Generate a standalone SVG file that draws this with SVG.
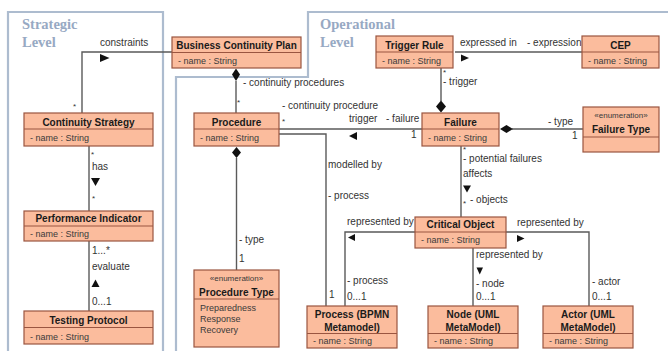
<svg xmlns="http://www.w3.org/2000/svg" width="668" height="351" viewBox="0 0 668 351">
<style>
.frame{fill:none;stroke:#adbccf;stroke-width:2.2}
.ttl{font-family:"Liberation Serif",serif;font-weight:bold;font-size:14.5px;fill:#97a9c3}
.box{fill:#fbbc9d;stroke:#9a5540;stroke-width:1.2}
.dv{stroke:#9a5540;stroke-width:1.2}
.hd{font-family:"Liberation Sans",Arial,sans-serif;font-weight:bold;font-size:10px;fill:#1a1a1a;text-anchor:middle}
.at{font-family:"Liberation Sans",Arial,sans-serif;font-size:9px;fill:#3a3a3a}
.st{font-family:"Liberation Sans",Arial,sans-serif;font-size:8px;fill:#3a3a3a;text-anchor:middle}
.lbl{font-family:"Liberation Sans",Arial,sans-serif;font-size:10px;fill:#333}
.ast{font-family:"Liberation Sans",Arial,sans-serif;font-size:8px;fill:#333}
.ln{fill:none;stroke:#5a5a5a;stroke-width:1.4}
.hd2{fill:#111;stroke:none}
</style>
<rect width="668" height="351" fill="#ffffff"/>
<g id="frames">
<path class="frame" d="M8,365 L8,12 L163,12 L163,365"/>
<path class="frame" d="M176,365 L176,77 L308,77 L308,12 L672,12"/>
<text class="ttl" x="22" y="29">Strategic</text>
<text class="ttl" x="22" y="47">Level</text>
<text class="ttl" x="320" y="29">Operational</text>
<text class="ttl" x="320" y="47">Level</text>
</g>
<g id="connectors">
<!-- constraints -->
<path class="ln" d="M172,52 L82,52 L82,113"/>
<text class="lbl" x="100" y="46">constraints</text>
<polygon class="hd2" points="100,54 109.5,58 100,62"/>
<text class="ast" x="73" y="109">*</text>
<!-- BCP - Procedure -->
<path class="ln" d="M236,81 L236,113"/>
<polygon class="hd2" points="236,68.5 240,74.5 236,81 232,74.5"/>
<text class="lbl" x="243" y="86">- continuity procedures</text>
<text class="ast" x="237" y="105">*</text>
<!-- Procedure - Failure -->
<path class="ln" d="M279,129 L422,129"/>
<text class="lbl" x="282" y="109">- continuity procedure</text>
<text class="ast" x="282" y="124">*</text>
<text class="lbl" x="349" y="122">trigger</text>
<text class="lbl" x="386" y="122">- failure</text>
<text class="lbl" x="411" y="138">1</text>
<polygon class="hd2" points="349,136 357,132 357,140"/>
<!-- Procedure - Process -->
<path class="ln" d="M279,134 L326,134 L326,306"/>
<text class="lbl" x="328" y="168">modelled by</text>
<text class="lbl" x="328" y="199">- process</text>
<text class="lbl" x="329" y="297.5">1</text>
<!-- Procedure - Procedure Type -->
<path class="ln" d="M236.5,158 L236.5,270"/>
<polygon class="hd2" points="236.5,147 241,152.5 236.5,158 232,152.5"/>
<text class="lbl" x="239" y="243">- type</text>
<text class="lbl" x="239" y="262">1</text>
<!-- CS - PI -->
<path class="ln" d="M89,146 L89,211"/>
<text class="ast" x="91" y="157">*</text>
<text class="lbl" x="92" y="170">has</text>
<polygon class="hd2" points="91,178 100,178 95.5,186"/>
<text class="ast" x="92" y="201">*</text>
<!-- PI - TP -->
<path class="ln" d="M89,241 L89,311"/>
<text class="lbl" x="92" y="254">1...*</text>
<text class="lbl" x="92" y="269.5">evaluate</text>
<polygon class="hd2" points="91.5,287 99.5,287 95.5,279.5"/>
<text class="lbl" x="92" y="305">0...1</text>
<!-- Trigger Rule - CEP -->
<path class="ln" d="M455,52 L582,52"/>
<text class="lbl" x="460" y="46">expressed in</text>
<text class="lbl" x="527" y="46">- expression</text>
<polygon class="hd2" points="461,54.5 469,58 461,61.5"/>
<!-- Trigger Rule - Failure -->
<path class="ln" d="M441,68 L441,101"/>
<polygon class="hd2" points="441,100.5 446,106.5 441,112.5 436,106.5"/>
<text class="ast" x="443" y="75">*</text>
<text class="lbl" x="443" y="85">- trigger</text>
<!-- Failure - Failure Type -->
<path class="ln" d="M512,129 L583,129"/>
<polygon class="hd2" points="500,129 506.5,125 513,129 506.5,133"/>
<text class="lbl" x="548" y="125">- type</text>
<text class="lbl" x="572" y="139">1</text>
<!-- Failure - Critical Object -->
<path class="ln" d="M461,146 L461,217"/>
<text class="ast" x="463" y="152">*</text>
<text class="lbl" x="463" y="162">- potential failures</text>
<text class="lbl" x="463" y="177">affects</text>
<polygon class="hd2" points="463,185.5 471,185.5 467,192.5"/>
<text class="ast" x="463" y="206">*</text>
<text class="lbl" x="470" y="202.5">- objects</text>
<!-- Critical Object - Process -->
<path class="ln" d="M415,232 L345,232 L345,306"/>
<text class="lbl" x="347" y="225">represented by</text>
<polygon class="hd2" points="348,237.5 355,234 355,241"/>
<text class="lbl" x="347" y="284">- process</text>
<text class="lbl" x="347" y="299.5">0...1</text>
<!-- Critical Object - Node -->
<path class="ln" d="M473,248 L473,306"/>
<text class="lbl" x="476" y="258">represented by</text>
<polygon class="hd2" points="476.5,267.5 483,267.5 479.75,274.5"/>
<text class="lbl" x="476" y="287">- node</text>
<text class="lbl" x="476" y="299.5">0...1</text>
<!-- Critical Object - Actor -->
<path class="ln" d="M506,232 L589,232 L589,306"/>
<text class="lbl" x="517" y="226">represented by</text>
<polygon class="hd2" points="517,235 524.5,238.5 517,242"/>
<text class="lbl" x="592" y="285">- actor</text>
<text class="lbl" x="592" y="299.5">0...1</text>
</g>
<g id="bcp">
<rect class="box" x="172" y="37" width="129" height="31"/>
<line class="dv" x1="172" y1="52.5" x2="301" y2="52.5"/>
<text class="hd" x="236.5" y="48.5">Business Continuity Plan</text>
<text class="at" x="178" y="64">- name : String</text>
</g>
<g id="continuity-strategy">
<rect class="box" x="24" y="113" width="129" height="33"/>
<line class="dv" x1="24" y1="129" x2="153" y2="129"/>
<text class="hd" x="88.5" y="125.5">Continuity Strategy</text>
<text class="at" x="30" y="140.5">- name : String</text>
</g>
<g id="performance-indicator">
<rect class="box" x="24" y="211" width="129" height="30"/>
<line class="dv" x1="24" y1="226" x2="153" y2="226"/>
<text class="hd" x="88.5" y="221.5">Performance Indicator</text>
<text class="at" x="30" y="237">- name : String</text>
</g>
<g id="testing-protocol">
<rect class="box" x="24" y="311" width="129" height="33"/>
<line class="dv" x1="24" y1="327.5" x2="153" y2="327.5"/>
<text class="hd" x="88.5" y="323.5">Testing Protocol</text>
<text class="at" x="30" y="339.5">- name : String</text>
</g>
<g id="procedure">
<rect class="box" x="194" y="113" width="85" height="33"/>
<line class="dv" x1="194" y1="129" x2="279" y2="129"/>
<text class="hd" x="236.5" y="125.5">Procedure</text>
<text class="at" x="200" y="140.5">- name : String</text>
</g>
<g id="procedure-type">
<rect class="box" x="194" y="270" width="85" height="77"/>
<line class="dv" x1="194" y1="299" x2="279" y2="299"/>
<text class="st" x="236.5" y="281">«enumeration»</text>
<text class="hd" x="236.5" y="295.5">Procedure Type</text>
<text class="at" x="200" y="311">Preparedness</text>
<text class="at" x="200" y="322">Response</text>
<text class="at" x="200" y="333">Recovery</text>
</g>
<g id="trigger-rule">
<rect class="box" x="376" y="36" width="77" height="32"/>
<line class="dv" x1="376" y1="52" x2="453" y2="52"/>
<text class="hd" x="414.5" y="48.5">Trigger Rule</text>
<text class="at" x="382" y="64">- name : String</text>
</g>
<g id="cep">
<rect class="box" x="582" y="36" width="77" height="32"/>
<line class="dv" x1="582" y1="52" x2="659" y2="52"/>
<text class="hd" x="620.5" y="48.5">CEP</text>
<text class="at" x="588" y="64">- name : String</text>
</g>
<g id="failure">
<rect class="box" x="422" y="113" width="77" height="33"/>
<line class="dv" x1="422" y1="129" x2="499" y2="129"/>
<text class="hd" x="460.5" y="125.5">Failure</text>
<text class="at" x="428" y="140.5">- name : String</text>
</g>
<g id="failure-type">
<rect class="box" x="583" y="107" width="76" height="45"/>
<line class="dv" x1="583" y1="137" x2="659" y2="137"/>
<text class="st" x="621" y="118">«enumeration»</text>
<text class="hd" x="621" y="133">Failure Type</text>
</g>
<g id="critical-object">
<rect class="box" x="415" y="217" width="91" height="31"/>
<line class="dv" x1="415" y1="232" x2="506" y2="232"/>
<text class="hd" x="460.5" y="227.5">Critical Object</text>
<text class="at" x="421" y="243">- name : String</text>
</g>
<g id="process">
<rect class="box" x="307" y="306" width="90" height="42"/>
<line class="dv" x1="307" y1="333.5" x2="397" y2="333.5"/>
<text class="hd" x="352" y="317.5">Process (BPMN</text>
<text class="hd" x="352" y="331">Metamodel)</text>
<text class="at" x="313" y="344">- name : String</text>
</g>
<g id="node">
<rect class="box" x="428" y="306" width="90" height="42"/>
<line class="dv" x1="428" y1="333.5" x2="518" y2="333.5"/>
<text class="hd" x="473" y="317.5">Node (UML</text>
<text class="hd" x="473" y="331">MetaModel)</text>
<text class="at" x="434" y="344">- name : String</text>
</g>
<g id="actor">
<rect class="box" x="543" y="306" width="90" height="42"/>
<line class="dv" x1="543" y1="333.5" x2="633" y2="333.5"/>
<text class="hd" x="588" y="317.5">Actor (UML</text>
<text class="hd" x="588" y="331">MetaModel)</text>
<text class="at" x="549" y="344">- name : String</text>
</g>
</svg>
